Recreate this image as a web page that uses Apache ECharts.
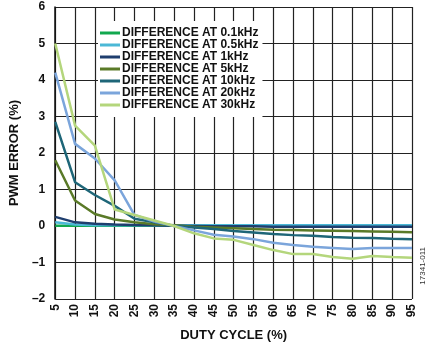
<!DOCTYPE html>
<html><head><meta charset="utf-8">
<script src="https://cdn.jsdelivr.net/npm/echarts@6/dist/echarts.min.js"></script>
<style>html,body{margin:0;padding:0;background:#fff}#c{width:435px;height:347px}</style>
</head><body><div id="c"></div>
<script>
const dutyCycle = [5,10,15,20,25,30,35,40,45,50,55,60,65,70,75,80,85,90,95];
const seriesNames = ['DIFFERENCE AT 0.1kHz','DIFFERENCE AT 0.5kHz','DIFFERENCE AT 1kHz','DIFFERENCE AT 5kHz','DIFFERENCE AT 10kHz','DIFFERENCE AT 20kHz','DIFFERENCE AT 30kHz'];
const seriesColors = ['#12a84e','#4bb8d6','#1f3e6e','#5a7a28','#1e6678','#7ba5db','#b4d67c'];
const diff0_1k = [0.01,0.01,0.01,0.01,0.01,0.01,0.01,0.01,0.01,0.01,0.01,0.01,0.01,0.01,0.01,0.01,0.01,0.01,0.01];
const diff0_5k = [0.1,0.04,0.02,0.02,0.02,0.02,0.02,0.02,0.02,0.02,0.02,0.02,0.02,0.02,0.02,0.02,0.02,0.02,0.02];
const diff1k = [0.25,0.1,0.06,0.04,0.03,0.02,0.01,0.0,-0.01,-0.01,-0.01,-0.02,-0.02,-0.02,-0.02,-0.02,-0.02,-0.02,-0.02];
const diff5k = [1.8,0.7,0.33,0.18,0.1,0.05,0.02,-0.02,-0.04,-0.06,-0.08,-0.1,-0.11,-0.12,-0.13,-0.14,-0.15,-0.16,-0.17];
const diff10k = [2.85,1.2,0.85,0.55,0.2,0.1,0.0,-0.04,-0.08,-0.14,-0.18,-0.22,-0.25,-0.27,-0.3,-0.32,-0.33,-0.35,-0.36];
const diff20k = [4.2,2.25,1.85,1.25,0.3,0.12,0.0,-0.12,-0.24,-0.29,-0.36,-0.46,-0.52,-0.57,-0.6,-0.63,-0.6,-0.6,-0.6];
const diff30k = [5.0,2.75,2.2,0.45,0.3,0.15,0.0,-0.2,-0.34,-0.38,-0.52,-0.66,-0.77,-0.77,-0.85,-0.9,-0.82,-0.85,-0.87];
const allData = [diff0_1k,diff0_5k,diff1k,diff5k,diff10k,diff20k,diff30k];

const font = '"Liberation Sans", Arial, sans-serif';
const chart = echarts.init(document.getElementById('c'), null, {renderer:'canvas'});
chart.setOption({
  animation:false,
  grid:{left:47,right:23,top:7,bottom:48},
  legend:{
    left:98, top:21, orient:'vertical',
    padding:[6,4,6,2], backgroundColor:'#fff',
    itemGap:0, itemWidth:20, itemHeight:3, icon:'rect',
    textStyle:{fontFamily:font,fontWeight:'bold',fontSize:12,color:'#111',lineHeight:12,padding:[0,0,0,-3]},
    data:seriesNames
  },
  xAxis:{
    type:'value', min:5, max:95, interval:5,
    name:'DUTY CYCLE (%)', nameLocation:'middle', nameGap:30,
    nameTextStyle:{fontFamily:font,fontWeight:'bold',fontSize:13,color:'#111'},
    axisLine:{lineStyle:{color:'#111',width:1.5}},
    axisTick:{show:false},
    axisLabel:{rotate:90,fontFamily:font,fontWeight:'bold',fontSize:12,color:'#111',margin:5},
    splitLine:{show:true,lineStyle:{color:'#222',width:1.2}}
  },
  yAxis:{
    type:'value', min:-2, max:6, interval:1,
    name:'PWM ERROR (%)', nameLocation:'middle', nameGap:30,
    nameTextStyle:{fontFamily:font,fontWeight:'bold',fontSize:13,color:'#111'},
    axisLine:{show:true,lineStyle:{color:'#111',width:1.5}},
    axisTick:{show:false},
    axisLabel:{fontFamily:font,fontWeight:'bold',fontSize:12,color:'#111',margin:10,
      formatter:v=>String(v).replace('-','\u2013')},
    splitLine:{show:true,lineStyle:{color:'#222',width:1.2}}
  },
  graphic:[{type:'text',left:419,top:247,rotation:Math.PI/2,
    style:{text:'17341-011',font:'8px '+font,fill:'#333'}}],
  series:seriesNames.map((n,i)=>({
    name:n,type:'line',showSymbol:false,symbol:'none',
    data:dutyCycle.map((x,j)=>[x,allData[i][j]]),
    lineStyle:{color:seriesColors[i],width:2.5},
    itemStyle:{color:seriesColors[i]}
  }))
});
</script></body></html>
